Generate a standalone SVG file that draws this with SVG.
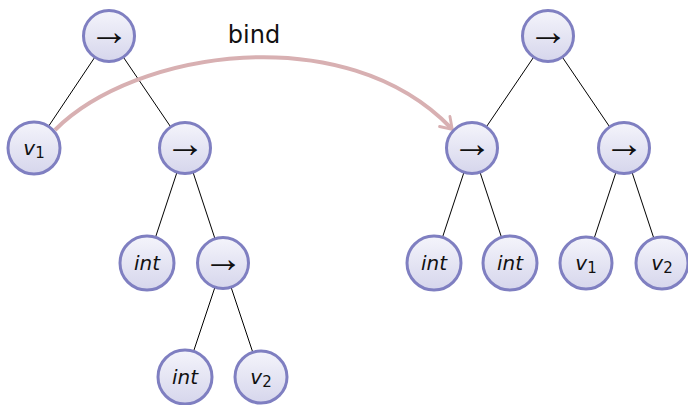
<svg xmlns="http://www.w3.org/2000/svg" width="688" height="405" viewBox="0 0 688 405">
  <defs>
    <linearGradient id="nodeFill" x1="0" y1="0" x2="0" y2="1">
      <stop offset="0" stop-color="#f4f4fb"/>
      <stop offset="1" stop-color="#d6d6ec"/>
    </linearGradient>
    <marker id="bindHead" viewBox="0 0 10 10" refX="6" refY="5" markerWidth="4.5" markerHeight="4.5" orient="auto" markerUnits="strokeWidth">
      <path d="M1,1 L7,5 L1,9" fill="none" stroke="#d8b0b2" stroke-width="1.6" stroke-linecap="round" stroke-linejoin="round"/>
    </marker>
  </defs>
  <style>
    .node circle { fill: url(#nodeFill); stroke: #7f7fc1; stroke-width: 3; }
    .node text { font-family: "DejaVu Sans", "Liberation Sans", sans-serif; font-size: 20px; fill: #111; text-anchor: middle; }
    .node text.it { font-style: italic; }
    .node text.arr { font-family: "Liberation Serif", "DejaVu Serif", serif; font-size: 40px; }
    .node tspan.sub { font-size: 15px; font-style: normal; }
    .edges line { stroke: #000; stroke-width: 1; }
    .bind { fill: none; stroke: #d8b0b2; stroke-width: 4; }
    .lbl { font-family: "DejaVu Sans", "Liberation Sans", sans-serif; font-size: 24px; fill: #111; text-anchor: middle; }
  </style>

  <g class="edges">
    <!-- left tree -->
    <line x1="109" y1="36" x2="34" y2="148"/>
    <line x1="109" y1="36" x2="185" y2="148"/>
    <line x1="185" y1="148" x2="147" y2="263"/>
    <line x1="185" y1="148" x2="223" y2="263"/>
    <line x1="223" y1="263" x2="185" y2="377"/>
    <line x1="223" y1="263" x2="261" y2="377"/>
    <!-- right tree -->
    <line x1="548" y1="36" x2="472" y2="148"/>
    <line x1="548" y1="36" x2="624" y2="148"/>
    <line x1="472" y1="148" x2="434" y2="263"/>
    <line x1="472" y1="148" x2="510" y2="263"/>
    <line x1="624" y1="148" x2="586" y2="263"/>
    <line x1="624" y1="148" x2="662" y2="263"/>
    <!-- bind arrow -->
    <path class="bind" d="M55,130 C135,50 345,18 451,128" marker-end="url(#bindHead)"/>
  </g>

  <text class="lbl" x="254" y="43">bind</text>

  <!-- left tree nodes -->
  <g id="l-root" class="node"><circle cx="109" cy="36" r="25.5"/><text class="arr" x="109" y="45">→</text></g>
  <g id="l-v1" class="node"><circle cx="34" cy="148" r="26"/><text class="it" x="34" y="155">v<tspan class="sub" dy="3">1</tspan></text></g>
  <g id="l-arr1" class="node"><circle cx="185" cy="148" r="25.5"/><text class="arr" x="185" y="157">→</text></g>
  <g id="l-int1" class="node"><circle cx="147" cy="263" r="27"/><text class="it" x="147" y="270">int</text></g>
  <g id="l-arr2" class="node"><circle cx="223" cy="263" r="25.5"/><text class="arr" x="223" y="272">→</text></g>
  <g id="l-int2" class="node"><circle cx="185" cy="377" r="27"/><text class="it" x="185" y="384">int</text></g>
  <g id="l-v2" class="node"><circle cx="261" cy="377" r="26"/><text class="it" x="261" y="384">v<tspan class="sub" dy="3">2</tspan></text></g>

  <!-- right tree nodes -->
  <g id="r-root" class="node"><circle cx="548" cy="36" r="25.5"/><text class="arr" x="548" y="45">→</text></g>
  <g id="r-arr1" class="node"><circle cx="472" cy="148" r="25.5"/><text class="arr" x="472" y="157">→</text></g>
  <g id="r-arr2" class="node"><circle cx="624" cy="148" r="25.5"/><text class="arr" x="624" y="157">→</text></g>
  <g id="r-int1" class="node"><circle cx="434" cy="263" r="27"/><text class="it" x="434" y="270">int</text></g>
  <g id="r-int2" class="node"><circle cx="510" cy="263" r="27"/><text class="it" x="510" y="270">int</text></g>
  <g id="r-v1" class="node"><circle cx="586" cy="263" r="26"/><text class="it" x="586" y="270">v<tspan class="sub" dy="3">1</tspan></text></g>
  <g id="r-v2" class="node"><circle cx="662" cy="263" r="26"/><text class="it" x="662" y="270">v<tspan class="sub" dy="3">2</tspan></text></g>
</svg>
